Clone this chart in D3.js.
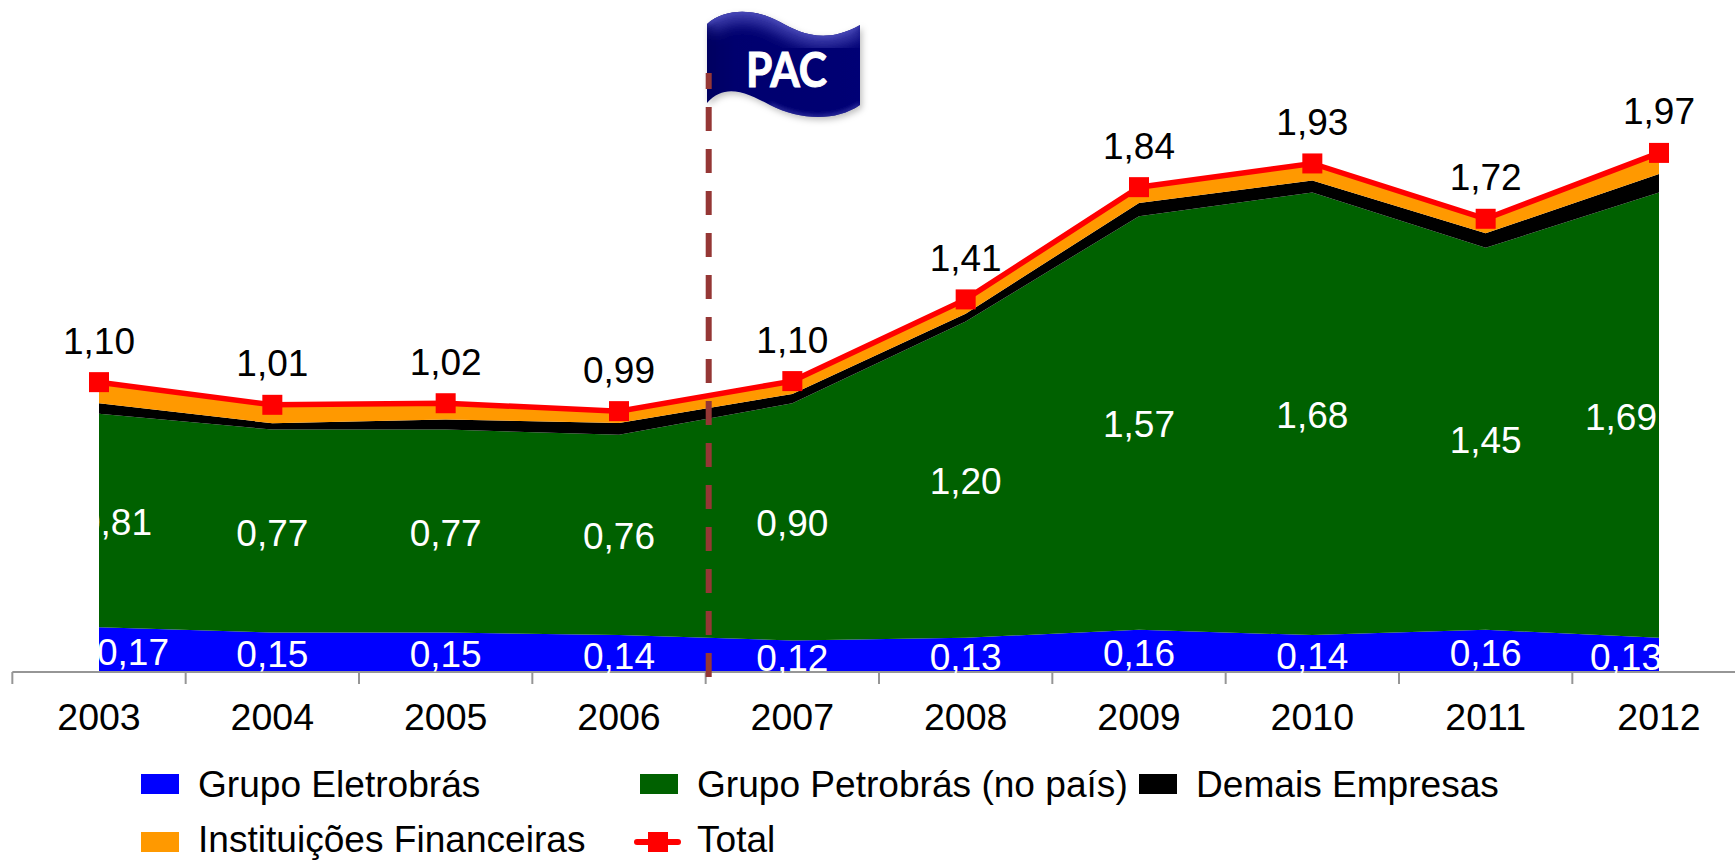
<!DOCTYPE html>
<html><head><meta charset="utf-8">
<script src="https://cdn.jsdelivr.net/npm/d3@7"></script>
<style>
html,body{margin:0;padding:0;background:#fff}
svg{display:block}
text{font-family:"Liberation Sans",Arial,sans-serif}
</style></head><body>
<script>
const years=["2003","2004","2005","2006","2007","2008","2009","2010","2011","2012"];
const eletrobras=[0.17,0.15,0.15,0.14,0.12,0.13,0.16,0.14,0.16,0.13];
const petrobras=[0.81,0.77,0.77,0.76,0.90,1.20,1.57,1.68,1.45,1.69];
const demais=[0.04,0.024,0.038,0.045,0.035,0.03,0.05,0.045,0.055,0.07];
const financeiras=[0.08,0.07,0.062,0.045,0.049,0.054,0.06,0.065,0.055,0.08];
const total=[1.10,1.014,1.02,0.99,1.104,1.414,1.84,1.93,1.72,1.97];
const seriesNames=["Grupo Eletrobrás","Grupo Petrobrás (no país)","Demais Empresas","Instituições Financeiras","Total"];
const colors=["#0000ff","#006100","#000000","#ff9900","#ff0000"];
const fmt=v=>v.toFixed(2).replace(".",",");

const W=1735,H=861,FS=37;
const svg=d3.select("body").append("svg").attr("width",W).attr("height",H);
const x=d3.scalePoint().domain(years).range([99,1659]);
const y=d3.scaleLinear().domain([0,2]).range([672,145]);
const rows=years.map((yr,i)=>({yr,a:eletrobras[i],b:petrobras[i],c:demais[i],d:financeiras[i]}));
const stack=d3.stack().keys(["a","b","c","d"])(rows);
const area=d3.area().x((d,i)=>x(years[i])).y0(d=>y(d[0])).y1(d=>y(d[1]));
svg.selectAll("path.band").data(stack).join("path").attr("class","band")
  .attr("d",area).attr("fill",(d,i)=>colors[i]);

// axis
const band=x.step();
svg.append("path").attr("d",`M${x(years[0])-band/2},${y(0)}H${W}`).attr("stroke","#969696").attr("stroke-width",2).attr("fill","none");
svg.selectAll("line.tick").data(d3.range(0,10)).join("line").attr("class","tick")
  .attr("x1",i=>x(years[0])-band/2+i*band).attr("x2",i=>x(years[0])-band/2+i*band)
  .attr("y1",y(0)).attr("y2",y(0)+12).attr("stroke","#969696").attr("stroke-width",2);
svg.selectAll("text.yr").data(years).join("text").attr("class","yr")
  .attr("x",d=>x(d)).attr("y",730).attr("text-anchor","middle").attr("font-size",37.5).text(d=>d);

// flag
const defs=svg.append("defs");
const grad=defs.append("linearGradient").attr("id","fl").attr("x1",0).attr("x2",1).attr("y1",0).attr("y2",0);
grad.append("stop").attr("offset",0).attr("stop-color","#000060");
grad.append("stop").attr("offset",.18).attr("stop-color","#00006e");
grad.append("stop").attr("offset",1).attr("stop-color","#000074");
const f=defs.append("filter").attr("id","shadow").attr("x","-10%").attr("y","-10%").attr("width","125%").attr("height","130%");
f.append("feDropShadow").attr("dx",2).attr("dy",3).attr("stdDeviation",3).attr("flood-color","#000").attr("flood-opacity",.25);
const blur=defs.append("filter").attr("id","blur").attr("x","-20%").attr("y","-50%").attr("width","140%").attr("height","200%");
blur.append("feGaussianBlur").attr("stdDeviation",7);
const blur2=defs.append("filter").attr("id","blur2").attr("x","-20%").attr("y","-50%").attr("width","140%").attr("height","200%");
blur2.append("feGaussianBlur").attr("stdDeviation",2);
const topEdge="M707,24 C725,8 755,8 780,22 C800,33 825,45 860,25";
const bottomEdge="L860,105 C835,122 800,120 770,105 C745,92 725,83 707,103 Z";
const flagPath=topEdge+" "+bottomEdge;
defs.append("clipPath").attr("id","flagClip").append("path").attr("d",flagPath);
svg.append("path").attr("d",flagPath).attr("fill","url(#fl)").attr("filter","url(#shadow)");
const sheen=svg.append("g").attr("clip-path","url(#flagClip)");
sheen.append("path").attr("d",topEdge).attr("fill","none").attr("stroke","#3c3cac").attr("stroke-width",22).attr("filter","url(#blur)");
sheen.append("path").attr("d",topEdge).attr("fill","none").attr("stroke","#5050c0").attr("stroke-width",3).attr("filter","url(#blur2)");
sheen.append("path").attr("d","M860,105 C835,122 800,120 770,105").attr("fill","none").attr("stroke","#3030a0").attr("stroke-width",4).attr("filter","url(#blur2)");
svg.append("text").attr("x",786.5).attr("y",87).attr("text-anchor","middle").attr("font-size",47).attr("font-weight","bold")
  .attr("textLength",81).attr("lengthAdjust","spacingAndGlyphs")
  .attr("fill","#fff").attr("stroke","#fff").attr("stroke-width",1)
  .style("font-family","Lato,'Open Sans',sans-serif").text("PAC");

// PAC dashed line
svg.append("line").attr("x1",708.7).attr("x2",708.7).attr("y1",73).attr("y2",678)
  .attr("stroke","#953735").attr("stroke-width",6).attr("stroke-dasharray","24,18").attr("stroke-dashoffset",8);

// total line + markers
const line=d3.line().x((d,i)=>x(years[i])).y(d=>y(d));
svg.append("path").attr("d",line(total)).attr("fill","none").attr("stroke",colors[4]).attr("stroke-width",5.5);
svg.selectAll("rect.mk").data(total).join("rect").attr("class","mk")
  .attr("x",(d,i)=>x(years[i])-10).attr("y",d=>y(d)-10).attr("width",20).attr("height",20).attr("fill",colors[4]);

// labels
svg.selectAll("text.tot").data(total).join("text").attr("class","tot")
  .attr("x",(d,i)=>x(years[i])).attr("y",d=>y(d)-28.5).attr("text-anchor","middle").attr("font-size",FS).text(fmt);
const petroOff=[17,0,0,0,0,0,0,0,0,-38];
svg.selectAll("text.pe").data(petrobras).join("text").attr("class","pe")
  .attr("x",(d,i)=>x(years[i])+petroOff[i]).attr("y",(d,i)=>y(eletrobras[i]+d/2)+14.5)
  .attr("text-anchor","middle").attr("font-size",FS).attr("fill","#fff").text(fmt);
const eleOff=[34,0,0,0,0,0,0,0,0,-33];
svg.selectAll("text.el").data(eletrobras).join("text").attr("class","el")
  .attr("x",(d,i)=>x(years[i])+eleOff[i]).attr("y",(d,i)=>y(d/2)+15)
  .attr("text-anchor","middle").attr("font-size",FS).attr("fill","#fff").text(fmt);

// legend
const legend=[
 {i:0,x:141,y:784,b:796.5},{i:1,x:640,y:784,b:796.5},{i:2,x:1139,y:784,b:796.5},
 {i:3,x:141,y:842,b:852},{i:4,x:640,y:842,b:852}];
legend.forEach(l=>{
  const g=svg.append("g");
  if(l.i<4) g.append("rect").attr("x",l.x).attr("y",l.y-10).attr("width",38).attr("height",20).attr("fill",colors[l.i]);
  else{
    g.append("line").attr("x1",l.x-3).attr("x2",l.x+38).attr("y1",l.y).attr("y2",l.y).attr("stroke",colors[4]).attr("stroke-width",6).attr("stroke-linecap","round");
    g.append("rect").attr("x",l.x+8).attr("y",l.y-10).attr("width",20).attr("height",20).attr("fill",colors[4]);
  }
  g.append("text").attr("x",l.x+57).attr("y",l.b).attr("font-size",37.1).text(seriesNames[l.i]);
});
</script>
</body></html>
